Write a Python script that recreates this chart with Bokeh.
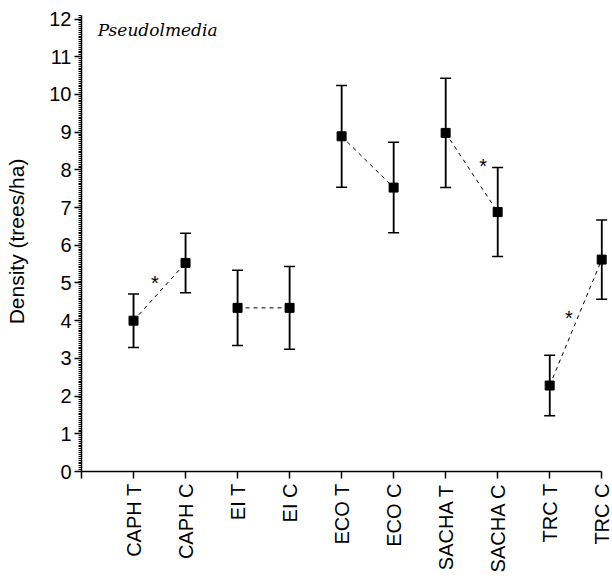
from bokeh.plotting import figure
from bokeh.models import (Range1d, FixedTicker, SingleIntervalTicker, Whisker,
                          ColumnDataSource, Label)
from bokeh.core.properties import value
from bokeh.embed import file_html
from bokeh.resources import INLINE
import math

# Tree density per site and treatment (T = treated, C = control)
sites = ["CAPH T", "CAPH C", "EI T", "EI C", "ECO T", "ECO C",
         "SACHA T", "SACHA C", "TRC T", "TRC C"]
density = [4.0, 5.53, 4.34, 4.34, 8.89, 7.53, 8.98, 6.88, 2.28, 5.62]
error = [0.71, 0.79, 1.0, 1.1, 1.35, 1.2, 1.45, 1.18, 0.8, 1.05]

# significant T vs C differences, with the place of each asterisk
star_x = [1.41, 7.72, 9.37]
star_y = [5.0, 8.11, 4.07]

xs = list(range(1, len(sites) + 1))
src = ColumnDataSource(dict(
    x=xs, y=density,
    upper=[d + e for d, e in zip(density, error)],
    lower=[d - e for d, e in zip(density, error)],
))

p = figure(width=612, height=587, output_backend="svg", toolbar_location=None,
           x_range=Range1d(0, 10.15), y_range=Range1d(0, 12.2),
           min_border_left=81, min_border_right=3, min_border_top=11,
           min_border_bottom=116)
p.outline_line_color = None
p.xgrid.visible = False
p.ygrid.visible = False
p.background_fill_color = "white"
p.border_fill_color = "white"

FONT = "Liberation Sans"

# x axis: one tick per site plus one at the origin
p.xaxis.ticker = FixedTicker(ticks=list(range(0, len(sites) + 1)))
p.xaxis.major_label_overrides = {0: ""} | {i + 1: s for i, s in enumerate(sites)}
p.xaxis.major_label_orientation = math.pi / 2
p.xaxis.bounds = (0, 10)
p.xaxis.minor_tick_line_color = None

# y axis with dense minor ticks
p.yaxis.ticker = SingleIntervalTicker(interval=1, num_minor_ticks=20)
p.yaxis.bounds = (0, 12.1)
p.yaxis.axis_label = "Density (trees/ha)"
p.yaxis.axis_label_standoff = 18
p.yaxis.axis_label_text_font_style = "normal"
p.yaxis.axis_label_text_font = FONT
p.yaxis.axis_label_text_font_size = "21px"
p.yaxis.axis_label_text_color = "black"
p.yaxis.minor_tick_out = 3
p.yaxis.minor_tick_in = 0
p.yaxis.minor_tick_line_color = "black"

for ax in (p.xaxis, p.yaxis):
    ax.axis_line_width = 1.5
    ax.axis_line_color = "black"
    ax.major_tick_line_width = 1.5
    ax.major_tick_line_color = "black"
    ax.major_tick_out = 7
    ax.major_tick_in = 0
    ax.major_label_text_font = FONT
    ax.major_label_text_font_size = "20px"
    ax.major_label_text_color = "black"
p.yaxis.major_label_standoff = 3
p.xaxis.major_label_standoff = 5

# dashed connectors between treated and control of each site
for i in range(0, len(sites), 2):
    p.line(x=xs[i:i + 2], y=density[i:i + 2], line_color="black",
           line_width=1, line_dash="4 4")

# error bars
p.add_layout(Whisker(source=src, base="x", upper="upper", lower="lower",
                     line_color="black", line_width=1.5,
                     upper_head=None, lower_head=None))
wh = Whisker(source=src, base="x", upper="upper", lower="lower",
             line_color="black", line_width=1.5)
wh.upper_head.size = 11
wh.lower_head.size = 11
wh.upper_head.line_width = 1.5
wh.lower_head.line_width = 1.5
p.add_layout(wh)

# means
p.scatter(x="x", y="y", source=src, marker="square", size=9,
          fill_color="black", line_color="black")

# significance asterisks
p.text(x=star_x, y=star_y, text=["*"] * len(star_x), text_align="center",
       text_baseline="middle", text_font=value(FONT), text_font_size="20px",
       text_color="black")

p.add_layout(Label(x=0.31, y=11.71, text="Pseudolmedia",
                   text_font="DejaVu Serif", text_font_style="italic",
                   text_font_size="17px", text_color="black",
                   text_baseline="alphabetic"))

open("out.html", "w").write(file_html(p, INLINE))
